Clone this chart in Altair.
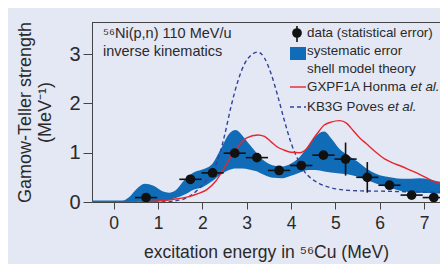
import altair as alt
import pandas as pd

# ---------------- data ----------------
energy = [0.73, 1.73, 2.23, 2.73, 3.23, 3.73, 4.23, 4.73, 5.23, 5.72, 6.22, 6.72, 7.22]
strength = [0.09, 0.46, 0.59, 0.99, 0.90, 0.64, 0.74, 0.95, 0.87, 0.50, 0.34, 0.14, 0.09]
stat_err = [0.03, 0.04, 0.04, 0.05, 0.05, 0.05, 0.05, 0.06, 0.335, 0.31, 0.05, 0.04, 0.03]
bin_half = 0.25

band_e = [-0.5, 0.2, 0.35, 0.5, 0.7, 0.9, 1.1, 1.25, 1.4, 1.6, 1.8, 2.0, 2.2, 2.4, 2.6,
          2.75, 2.9, 3.05, 3.2, 3.4, 3.6, 3.8, 4.0, 4.2, 4.4, 4.55, 4.75, 4.9, 5.1, 5.3,
          5.5, 5.7, 5.9, 6.1, 6.3, 6.5, 6.7, 6.9, 7.1, 7.3, 7.45]
band_hi = [0.03, 0.03, 0.10, 0.25, 0.37, 0.33, 0.22, 0.19, 0.24, 0.45, 0.60, 0.66, 0.75,
           1.05, 1.38, 1.46, 1.35, 1.18, 1.02, 0.83, 0.74, 0.72, 0.78, 0.92, 1.15, 1.33,
           1.43, 1.30, 1.07, 0.94, 0.82, 0.68, 0.58, 0.52, 0.49, 0.47, 0.47, 0.48, 0.46,
           0.42, 0.40]
band_lo = [0.0, 0.0, 0.0, 0.01, 0.02, 0.02, 0.02, 0.04, 0.08, 0.15, 0.25, 0.30, 0.41,
           0.55, 0.65, 0.68, 0.68, 0.66, 0.63, 0.55, 0.49, 0.48, 0.53, 0.60, 0.65, 0.65,
           0.62, 0.60, 0.58, 0.56, 0.51, 0.45, 0.38, 0.32, 0.27, 0.22, 0.20, 0.19, 0.18,
           0.17, 0.17]

gx_e = [-0.5, 0.5, 1.0, 1.4, 1.7, 1.9, 2.1, 2.3, 2.5, 2.65, 2.8, 3.0, 3.25, 3.4, 3.55,
        3.7, 3.85, 4.0, 4.2, 4.35, 4.5, 4.6, 4.75, 4.9, 5.1, 5.25, 5.4, 5.55, 5.7, 5.9,
        6.1, 6.3, 6.5, 6.7, 6.9, 7.1, 7.3, 7.45]
gx_v = [0.0, 0.0, 0.02, 0.06, 0.11, 0.17, 0.25, 0.42, 0.70, 0.93, 1.12, 1.30, 1.36, 1.33,
        1.22, 1.11, 1.05, 1.01, 1.00, 1.08, 1.28, 1.40, 1.56, 1.62, 1.65, 1.60, 1.45, 1.30,
        1.18, 1.02, 0.88, 0.79, 0.72, 0.64, 0.56, 0.47, 0.39, 0.35]

kb_e = [-0.5, 1.0, 1.5, 1.7, 1.9, 2.1, 2.25, 2.4, 2.5, 2.65, 2.8, 2.95, 3.1, 3.25, 3.4,
        3.55, 3.7, 3.85, 4.0, 4.15, 4.3, 4.45, 4.65, 4.85, 5.05, 5.3, 5.6, 6.0, 6.5, 7.0,
        7.45]
kb_v = [0.0, 0.0, 0.04, 0.11, 0.25, 0.45, 0.65, 1.00, 1.35, 1.95, 2.45, 2.80, 2.98, 3.04,
        2.92, 2.60, 2.15, 1.65, 1.20, 0.87, 0.62, 0.48, 0.37, 0.30, 0.26, 0.235, 0.225,
        0.22, 0.21, 0.20, 0.20]

# ---------------- styling ----------------
W, H = 348, 180
BG = "#e4e7f4"
BLUE = "#106cb6"
RED = "#e8262c"
DASH = "#2f4598"
AX = "#444444"
TXT = "#2a2a2a"
FONT = "Liberation Sans"
LEG = 13.4

xs = alt.Scale(domain=[-0.49, 7.36], nice=False, zero=False)
ys = alt.Scale(domain=[0, 3.65], nice=False, zero=False)

x_axis = alt.Axis(values=list(range(8)), tickSize=7, labelFontSize=17.5, labelPadding=5,
                  title="excitation energy in ⁵⁶Cu (MeV)", titleFontSize=17.5,
                  titleFontWeight="normal", titlePadding=12, grid=False,
                  domainColor=AX, tickColor=AX, labelColor=TXT, titleColor=TXT,
                  labelFont=FONT, titleFont=FONT)
y_axis = alt.Axis(values=[0, 1, 2, 3], tickSize=9, labelFontSize=20, labelPadding=3,
                  title=["Gamow-Teller strength", "(MeV⁻¹)"], titleFontSize=18,
                  titleFontWeight="normal", titlePadding=14, grid=False,
                  domainColor=AX, tickColor=AX, labelColor=TXT, titleColor=TXT,
                  labelFont=FONT, titleFont=FONT)

band_df = pd.DataFrame({"e": band_e, "hi": band_hi, "lo": band_lo})
gx_df = pd.DataFrame({"e": gx_e, "v": gx_v})
kb_df = pd.DataFrame({"e": kb_e, "v": kb_v})
pts = pd.DataFrame({"e": energy, "v": strength, "err": stat_err})
pts["elo"] = pts["e"] - bin_half
pts["ehi"] = pts["e"] + bin_half
pts["vlo"] = pts["v"] - pts["err"]
pts["vhi"] = pts["v"] + pts["err"]

band = alt.Chart(band_df).mark_area(color=BLUE, opacity=1, clip=True,
                                    interpolate="monotone").encode(
    x=alt.X("e:Q", scale=xs, axis=x_axis),
    y=alt.Y("hi:Q", scale=ys, axis=y_axis),
    y2="lo:Q",
)
kb = alt.Chart(kb_df).mark_line(color=DASH, strokeWidth=1.4, strokeDash=[4, 3], clip=True,
                                interpolate="monotone").encode(
    x=alt.X("e:Q", scale=xs), y=alt.Y("v:Q", scale=ys))
gx = alt.Chart(gx_df).mark_line(color=RED, strokeWidth=1.4, clip=True,
                                interpolate="monotone").encode(
    x=alt.X("e:Q", scale=xs), y=alt.Y("v:Q", scale=ys))
hbar = alt.Chart(pts).mark_rule(color="#111111", strokeWidth=1.6, clip=True).encode(
    x=alt.X("elo:Q", scale=xs), x2="ehi:Q", y=alt.Y("v:Q", scale=ys))
vbar = alt.Chart(pts).mark_rule(color="#111111", strokeWidth=1.6, clip=True).encode(
    x=alt.X("e:Q", scale=xs), y=alt.Y("vlo:Q", scale=ys), y2="vhi:Q")
dots = alt.Chart(pts).mark_point(filled=True, color="#111111", opacity=1, size=95, clip=True).encode(
    x=alt.X("e:Q", scale=xs), y=alt.Y("v:Q", scale=ys))

one = pd.DataFrame({"k": [0]})


def label(text, x, y, size=LEG, style="normal"):
    return alt.Chart(one).mark_text(text=text, align="left", baseline="middle", font=FONT,
                                    fontSize=size, fontStyle=style, color=TXT).encode(
        x=alt.value(x), y=alt.value(y))


top_line = alt.Chart(one).mark_rule(color=AX, strokeWidth=1).encode(
    x=alt.value(0), x2=alt.value(W), y=alt.value(0.5))

LX = 198  # legend symbol left edge (plot px)
TX = 215  # legend text left edge (plot px)
leg_dot = alt.Chart(one).mark_point(filled=True, color="#111111", opacity=1, size=95).encode(
    x=alt.value(LX + 7), y=alt.value(11))
leg_dotbar = alt.Chart(one).mark_rule(color="#111111", strokeWidth=1.6).encode(
    x=alt.value(LX + 7), y=alt.value(4), y2=alt.value(20))
leg_box = alt.Chart(one).mark_rect(color=BLUE).encode(
    x=alt.value(LX), x2=alt.value(LX + 16), y=alt.value(25), y2=alt.value(38))
leg_red = alt.Chart(one).mark_rule(color=RED, strokeWidth=1.4).encode(
    x=alt.value(LX), x2=alt.value(LX + 16), y=alt.value(65))
leg_dash = alt.Chart(one).mark_rule(color=DASH, strokeWidth=1.4, strokeDash=[4, 3]).encode(
    x=alt.value(LX), x2=alt.value(LX + 16), y=alt.value(85))

texts = [
    label("⁵⁶Ni(p,n) 110 MeV/u", 11, 12, size=14.5),
    label("inverse kinematics", 11, 30, size=14.5),
    label("data (statistical error)", TX, 11),
    label("systematic error", TX, 29),
    label("shell model theory", TX, 47),
    label("GXPF1A Honma", TX, 65),
    label("et al.", TX + 7.725 * LEG, 65, style="italic"),
    label("KB3G Poves", TX, 85),
    label("et al.", TX + 6.003 * LEG, 85, style="italic"),
]

chart = alt.layer(band, kb, gx, hbar, vbar, dots, top_line,
                  leg_dotbar, leg_dot, leg_box, leg_red, leg_dash, *texts).properties(
    width=W, height=H,
    autosize=alt.AutoSizeParams(type="none"),
    padding={"left": 84, "top": 14, "right": 0, "bottom": 62},
).configure(background=BG, font=FONT).configure_view(stroke=None)

chart.save("out.html", embed_options={"renderer": "svg", "actions": False})
